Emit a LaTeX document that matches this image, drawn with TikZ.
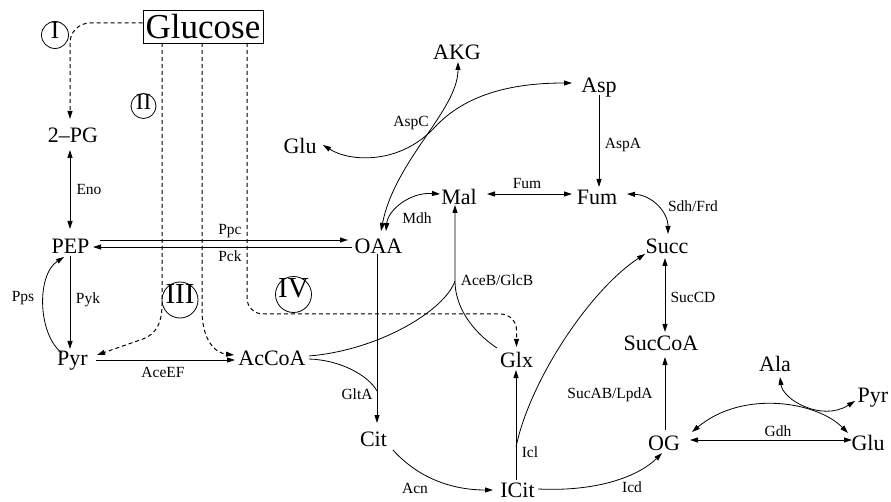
\documentclass[tikz,border=0pt]{standalone}
\usepackage{fontspec}
\setmainfont{Liberation Serif}
\usetikzlibrary{arrows.meta}
\begin{document}
\begin{tikzpicture}[x=1pt,y=-1pt,
  met/.style={font=\fontsize{22}{24}\selectfont, inner sep=0pt, text height=14.6pt, text depth=0pt},
  enz/.style={font=\fontsize{15.5}{17}\selectfont, inner sep=0pt},
  num/.style={draw, circle, line width=0.8pt, inner sep=0pt, text height=0.66em, text depth=0pt},
  tip/.tip={Triangle[length=8pt,width=5pt]},
  rx/.style={line width=0.8pt, -tip},
  brx/.style={line width=0.8pt, tip-tip},
  plain/.style={line width=0.8pt},
  dsh/.style={line width=1pt, dash pattern=on 4pt off 3pt, -tip}]
\useasboundingbox (0,0) rectangle (891,502);

% metabolites
\node[draw, line width=0.8pt, minimum width=120pt, minimum height=33pt, inner sep=0pt,
      font=\fontsize{35}{37}\selectfont, text height=23.2pt, text depth=0pt] (glucose) at (203,26.5) {Glucose};
\node[met] (pg)     at (73,135)    {2--PG};
\node[met] (pep)    at (70.5,246)  {PEP};
\node[met] (pyrL)   at (72.5,358)  {Pyr};
\node[met] (acoa)   at (272,358)   {AcCoA};
\node[met] (oaa)    at (378.5,246) {OAA};
\node[met] (cit)    at (373.5,439) {Cit};
\node[met] (icit)   at (517.5,490.5) {ICit};
\node[met] (glx)    at (516.5,360) {Glx};
\node[met] (mal)    at (459,197)   {Mal};
\node[met] (fum)    at (597,197)   {Fum};
\node[met] (asp)    at (599,85)    {Asp};
\node[met] (akg)    at (457,52.5)  {AKG};
\node[met] (gluL)   at (300,146)   {Glu};
\node[met] (succ)   at (667,246.5) {Succ};
\node[met] (succoa) at (661,343)   {SucCoA};
\node[met] (og)     at (664,443.5) {OG};
\node[met] (ala)    at (775,364)   {Ala};
\node[met] (pyrR)   at (873,395.5) {Pyr};
\node[met] (gluR)   at (868,443)   {Glu};

% route markers
\node[num, minimum size=27pt, font=\fontsize{25}{27}\selectfont] (rI)   at (55,35)      {I};
\node[num, minimum size=25pt, font=\fontsize{23}{25}\selectfont] (rII)  at (143.5,106)  {II};
\node[num, minimum size=36pt, font=\fontsize{29}{31}\selectfont] (rIII) at (180,300)    {III};
\node[num, minimum size=36pt, font=\fontsize{29}{31}\selectfont] (rIV)  at (293.5,294.5) {IV};

% enzyme labels
\node[enz] (lEno)  at (89,190)  {Eno};
\node[enz] (lPyk)  at (88,300)  {Pyk};
\node[enz] (lPps)  at (23,298)  {Pps};
\node[enz] (lPpc)  at (230,231) {Ppc};
\node[enz] (lPck)  at (230,256) {Pck};
\node[enz] (lAce)  at (163,372) {AceEF};
\node[enz] (lGlt)  at (357,394) {GltA};
\node[enz] (lAspC) at (411,123) {AspC};
\node[enz] (lMdh)  at (417,218) {Mdh};
\node[enz] (lFum)  at (527,184) {Fum};
\node[enz] (lAspA) at (623,145) {AspA};
\node[enz] (lAceB) at (497,280) {AceB/GlcB};
\node[enz] (lSdh)  at (693,206) {Sdh/Frd};
\node[enz] (lSucCD) at (693,297) {SucCD};
\node[enz] (lSucAB) at (610,395) {SucAB/LpdA};
\node[enz] (lIcl)  at (530,452) {Icl};
\node[enz] (lAcn)  at (415,488) {Acn};
\node[enz] (lIcd)  at (632,487) {Icd};
\node[enz] (lGdh)  at (778,431) {Gdh};

% glucose uptake routes
\draw[dsh, rounded corners=20pt] ([shift={(0,-3.5)}]glucose.west) -| ([shift={(-3,-16)}]pg.center);
\draw[dsh] ([shift={(-41,16.5)}]glucose.center) -- ++(0,262)
  .. controls +(0,25) and +(10,-3) .. ++(-22,35) -- ([shift={(24.5,-3)}]pyrL.center);
\draw[dsh] ([shift={(-1,16.5)}]glucose.center) -- ++(0,267)
  .. controls +(0,30) and +(-19,-2) .. ([shift={(-38,-3)}]acoa.center);
\draw[dsh, rounded corners=16pt] ([shift={(44,16.5)}]glucose.center) |- ([shift={(0,-46)}]glx.center)
  -- ([shift={(0,-13)}]glx.center);

% glycolysis / gluconeogenesis
\draw[brx] ([shift={(-0.5,-17)}]pep.center) -- ([shift={(-3,15)}]pg.center);
\draw[rx] ([shift={(-0.5,10)}]pep.center) -- ([shift={(-2.5,-9)}]pyrL.center);
\draw[rx] ([shift={(-10.5,-5)}]pyrL.center) .. controls +(-24,-18) and +(-28,18) .. ([shift={(-6.5,11)}]pep.center);
\draw[rx] ([shift={(29.5,-6)}]pep.center) -- ([shift={(-30.5,-6)}]oaa.center);
\draw[rx] ([shift={(-26.5,1)}]oaa.center) -- ([shift={(22.5,1)}]pep.center);
\draw[rx] ([shift={(23.5,2)}]pyrL.center) -- ([shift={(-37,2)}]acoa.center);

% TCA cycle
\coordinate (gj) at ([shift={(3.5,-48)}]cit.center);
\draw[rx] ([shift={(-1.5,8)}]oaa.center) -- ([shift={(3.5,-16)}]cit.center);
\draw[plain] ([shift={(37,1)}]acoa.center) .. controls +(31,1) and +(-9,-16) .. (gj);
\draw[rx] ([shift={(19.5,11)}]cit.center) .. controls +(27,30) and +(-38,0) .. ([shift={(-24.5,-0.5)}]icit.center);
\draw[rx] ([shift={(20.5,-1.5)}]icit.center) .. controls +(62,3) and +(-22,22) .. ([shift={(-2,9.5)}]og.center);
\draw[rx] ([shift={(1,-13.5)}]og.center) -- ([shift={(4,14)}]succoa.center);
\draw[brx] ([shift={(-2,11.5)}]succ.center) -- ([shift={(4,-11)}]succoa.center);
\draw[brx] ([shift={(30,-3)}]fum.center) .. controls +(25,1) and +(0,-22) .. ([shift={(1,-12.5)}]succ.center);
\draw[brx] ([shift={(28,-3)}]mal.center) -- ([shift={(-25,-3)}]fum.center);
\draw[brx] ([shift={(-19,-3)}]mal.center) .. controls +(-30,-2) and +(2,-21) .. ([shift={(7.5,-15)}]oaa.center);

% glyoxylate shunt
\coordinate (jm) at ([shift={(-4,84)}]mal.center);
\draw[rx] ([shift={(-1.5,-10.5)}]icit.center) -- ([shift={(-0.5,10)}]glx.center);
\draw[rx] ([shift={(-1.5,-43.5)}]icit.center) .. controls +(14,-67) and +(-55,36) .. ([shift={(-22,7.5)}]succ.center);
\draw[plain] ([shift={(37,-2)}]acoa.center) .. controls +(71,-6) and +(-10,29) .. (jm);
\draw[rx] ([shift={(-19.5,-12)}]glx.center) .. controls +(-27,-18) and +(0,24) .. (jm)
  -- ([shift={(-4,8)}]mal.center);

% amino acid exchanges
\coordinate (xa) at ([shift={(135,-19)}]gluL.center);
\draw[brx] ([shift={(23,-1)}]gluL.center) .. controls +(27,17) and +(-35,38) .. (xa)
  .. controls +(30,-32) and +(-62,0) .. ([shift={(-27,-2)}]asp.center);
\draw[brx] ([shift={(1,9.5)}]akg.center) .. controls +(0,48) and +(14,-71) .. ([shift={(2.5,-15)}]oaa.center);
\draw[rx] ([shift={(0,10)}]asp.center) -- ([shift={(2,-10)}]fum.center);
\draw[brx] ([shift={(26,-3.5)}]og.center) -- ([shift={(-16,-3)}]gluR.center);
\draw[brx] ([shift={(28,-11.5)}]og.center) .. controls +(50,-42) and +(-32,-32) .. ([shift={(-20,-10)}]gluR.center);
\draw[brx] ([shift={(5,13)}]ala.center) .. controls +(3,23) and +(-33,21) .. ([shift={(-18,5.5)}]pyrR.center);
\end{tikzpicture}
\end{document}
